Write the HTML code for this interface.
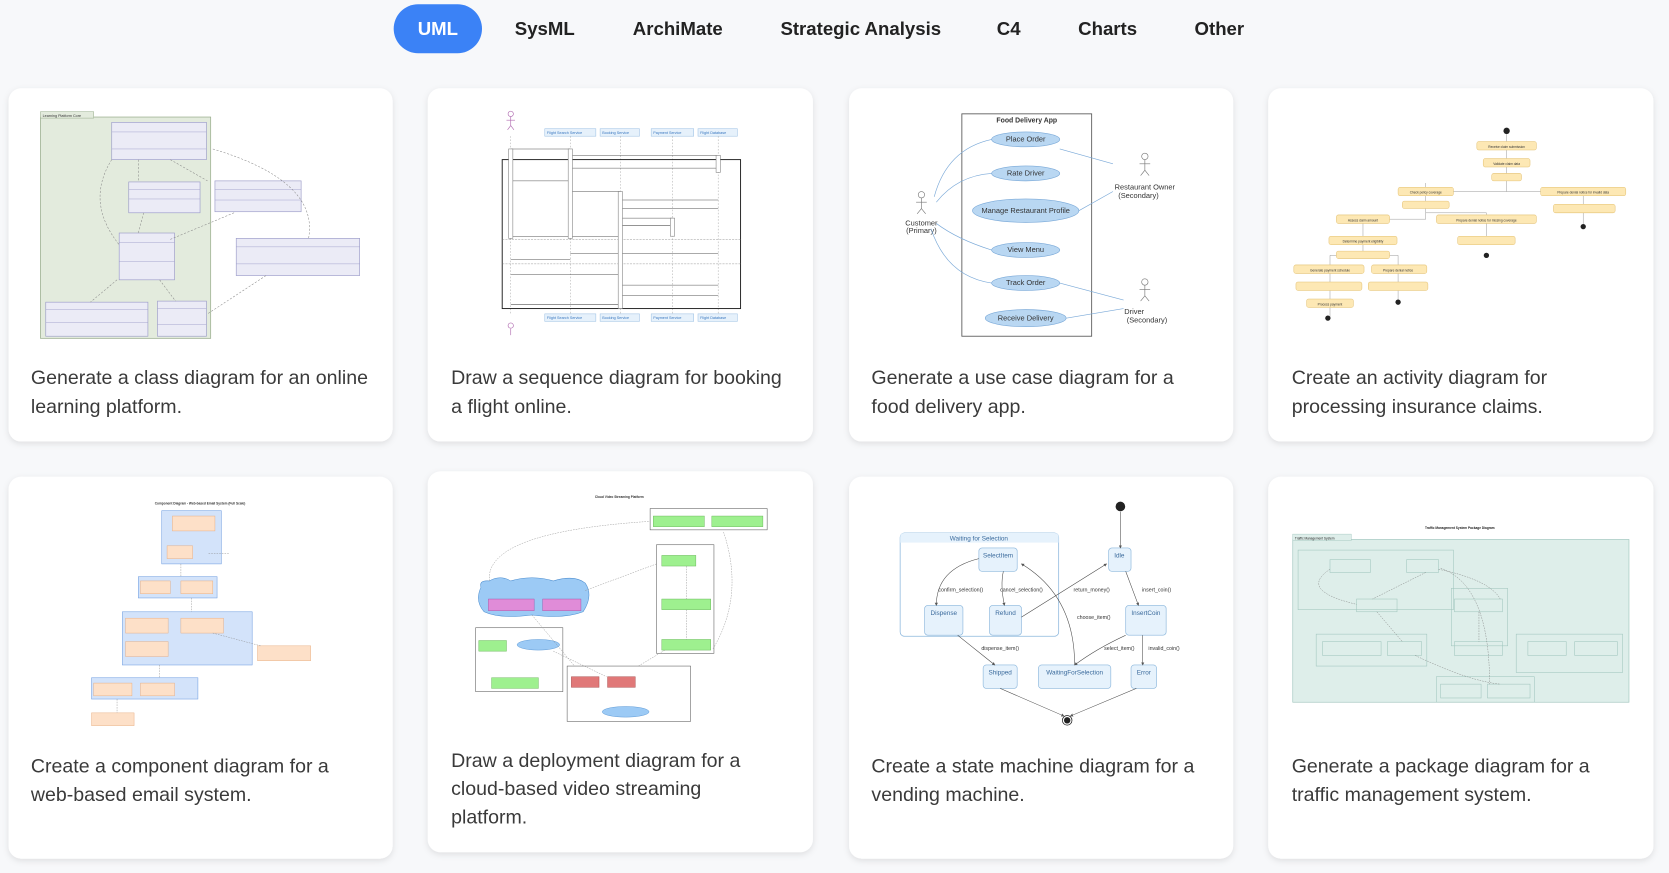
<!DOCTYPE html>
<html><head><meta charset="utf-8"><style>
html,body{margin:0;padding:0;background:#f7f8fa;width:1669px;height:873px;overflow:hidden}
svg{display:block}
.t{font-family:"Liberation Sans",sans-serif}
</style></head><body>
<svg width="1669" height="873" viewBox="0 0 1568.6 820.5" xmlns="http://www.w3.org/2000/svg" class="t">
<defs>
<filter id="sh" x="-5%" y="-5%" width="110%" height="115%"><feDropShadow dx="0" dy="2" stdDeviation="3" flood-color="#000" flood-opacity="0.10"/></filter>
<marker id="a" markerWidth="6" markerHeight="6" refX="5" refY="3" orient="auto"><path d="M0,0L6,3L0,6z" fill="#555"/></marker>
</defs>
<rect width="1568.6" height="820.5" fill="#f7f8fa"/>
<!-- tabs -->
<rect x="370" y="4" width="83" height="46" rx="23" fill="#3b82f6"/>
<g font-size="17.5" font-weight="bold" fill="#222" text-anchor="middle">
<text x="411.5" y="33" fill="#fff">UML</text>
<text x="512" y="33">SysML</text>
<text x="637" y="33">ArchiMate</text>
<text x="809" y="33">Strategic Analysis</text>
<text x="948" y="33">C4</text>
<text x="1041" y="33">Charts</text>
<text x="1146" y="33">Other</text>
</g>
<!-- cards -->
<g fill="#fff" filter="url(#sh)">
<rect x="8" y="83" width="361" height="332" rx="12"/>
<rect x="402" y="83" width="362" height="332" rx="12"/>
<rect x="798" y="83" width="361" height="332" rx="12"/>
<rect x="1192" y="83" width="362" height="332" rx="12"/>
<rect x="8" y="448" width="361" height="359" rx="12"/>
<rect x="402" y="443" width="362" height="358" rx="12"/>
<rect x="798" y="448" width="361" height="359" rx="12"/>
<rect x="1192" y="448" width="362" height="359" rx="12"/>
</g>
<g font-size="18.4" fill="#3a3a3a">
<text x="29" y="361">Generate a class diagram for an online</text>
<text x="29" y="388">learning platform.</text>
<text x="424" y="361">Draw a sequence diagram for booking</text>
<text x="424" y="388">a flight online.</text>
<text x="819" y="361">Generate a use case diagram for a</text>
<text x="819" y="388">food delivery app.</text>
<text x="1214" y="361">Create an activity diagram for</text>
<text x="1214" y="388">processing insurance claims.</text>
<text x="29" y="726">Create a component diagram for a</text>
<text x="29" y="753">web-based email system.</text>
<text x="424" y="721">Draw a deployment diagram for a</text>
<text x="424" y="747">cloud-based video streaming</text>
<text x="424" y="774">platform.</text>
<text x="819" y="726">Create a state machine diagram for a</text>
<text x="819" y="753">vending machine.</text>
<text x="1214" y="726">Generate a package diagram for a</text>
<text x="1214" y="753">traffic management system.</text>
</g>

<!-- Card1 class diagram -->
<g font-size="3.5" fill="#333">
<rect x="38" y="110" width="160" height="208" fill="#e3ebdd" stroke="#9aae8e" stroke-width="0.7"/>
<rect x="38" y="105" width="50" height="6" fill="#e3ebdd" stroke="#9aae8e" stroke-width="0.5"/>
<text x="40" y="110">Learning Platform Core</text>
<g fill="#ebebf6" stroke="#9a9ac8" stroke-width="0.6">
<rect x="105" y="115" width="89" height="35"/><rect x="121" y="171" width="67" height="29"/>
<rect x="202" y="170" width="81" height="29"/><rect x="112" y="219" width="52" height="44"/>
<rect x="222" y="224" width="116" height="35"/><rect x="43" y="284" width="96" height="32"/>
<rect x="148" y="283" width="46" height="33"/></g>
<g stroke="#9a9ac8" stroke-width="0.4"><path d="M105 124H194M105 140H194M121 178H188M121 187H188M202 178H283M202 188H283M112 228H164M112 246H164M222 232H338M222 248H338M43 291H139M43 303H139M148 290H194M148 305H194"/></g>
<g fill="none" stroke="#888" stroke-width="0.5" stroke-dasharray="2,1.5">
<path d="M130 150 L130 171"/><path d="M160 150 L195 170"/><path d="M105 150 Q80 190 112 230"/>
<path d="M200 140 Q300 170 290 224"/><path d="M135 200 L130 219"/><path d="M220 200 L160 225"/>
<path d="M110 263 L85 284"/><path d="M150 263 L165 283"/><path d="M250 259 L195 295"/></g>
</g>

<!-- Card2 sequence -->
<g font-size="3.5" fill="#333">
<g fill="#e6f1fb" stroke="#9cc1e4" stroke-width="0.5">
<rect x="512" y="121" width="48" height="7"/><rect x="564" y="121" width="37" height="7"/><rect x="612" y="121" width="40" height="7"/><rect x="656" y="121" width="37" height="7"/>
<rect x="512" y="295" width="48" height="7"/><rect x="564" y="295" width="37" height="7"/><rect x="612" y="295" width="40" height="7"/><rect x="656" y="295" width="37" height="7"/></g>
<g fill="#3a78c0"><text x="514" y="126">Flight Search Service</text><text x="566" y="126">Booking Service</text><text x="614" y="126">Payment Service</text><text x="658" y="126">Flight Database</text>
<text x="514" y="300">Flight Search Service</text><text x="566" y="300">Booking Service</text><text x="614" y="300">Payment Service</text><text x="658" y="300">Flight Database</text></g>
<g stroke="#b06ab0" stroke-width="0.6" fill="none"><circle cx="480" cy="107" r="2.5"/><path d="M480 110v8M476 113h8M480 118l-3 4M480 118l3 4"/><circle cx="480" cy="306" r="2.5"/><path d="M480 309v6"/></g>
<g stroke="#aaa" stroke-width="0.5" stroke-dasharray="1.5,1.5"><path d="M480 128V295M536 128V295M583 128V295M632 128V295M675 128V295"/></g>
<rect x="472" y="150" width="224" height="140" fill="none" stroke="#222" stroke-width="0.9"/>
<path d="M472 225H696M472 248H696" stroke="#888" stroke-width="0.4" stroke-dasharray="2,1"/>
<g stroke="#555" stroke-width="0.5" fill="none">
<path d="M480 140H536M536 146H675M675 158H536M536 170H480M536 180H583M583 188H675M675 196H583M583 205H632M632 212H583M583 222H480M675 238H536M536 244H480M480 258H583M583 268H675M675 278H583M583 286H480"/></g>
<g fill="#fff" stroke="#777" stroke-width="0.5"><rect x="478" y="140" width="4" height="84"/><rect x="534" y="140" width="4" height="84"/><rect x="581" y="180" width="4" height="110"/><rect x="673" y="146" width="4" height="16"/><rect x="630" y="205" width="4" height="17"/></g>
</g>

<!-- Card3 use case -->
<g font-size="7" fill="#333" text-anchor="middle">
<rect x="904" y="107" width="122" height="209" fill="#fff" stroke="#555" stroke-width="0.8"/>
<text x="965" y="115" font-weight="bold" font-size="6.5">Food Delivery App</text>
<g fill="#b9d7f2" stroke="#7aa9d8" stroke-width="0.6">
<ellipse cx="964" cy="131" rx="32" ry="7"/><ellipse cx="964" cy="163" rx="32" ry="7"/><ellipse cx="964" cy="198" rx="50" ry="11"/>
<ellipse cx="964" cy="235" rx="32" ry="7"/><ellipse cx="964" cy="266" rx="32" ry="7"/><ellipse cx="964" cy="299" rx="38" ry="8"/></g>
<text x="964" y="133">Place Order</text><text x="964" y="165">Rate Driver</text><text x="964" y="200">Manage Restaurant Profile</text><text x="964" y="237">View Menu</text><text x="964" y="268">Track Order</text><text x="964" y="301">Receive Delivery</text>
<g stroke="#777" stroke-width="0.6" fill="none"><circle cx="866" cy="183" r="3"/><path d="M866 186v10M861 190h10M866 196l-4 5M866 196l4 5"/>
<circle cx="1076" cy="147" r="3"/><path d="M1076 150v10M1071 154h10M1076 160l-4 5M1076 160l4 5"/>
<circle cx="1076" cy="265" r="3"/><path d="M1076 268v10M1071 272h10M1076 278l-4 5M1076 278l4 5"/></g>
<text x="866" y="212">Customer</text><text x="866" y="219">(Primary)</text>
<text x="1076" y="178">Restaurant Owner</text><text x="1070" y="186">(Secondary)</text>
<text x="1066" y="295">Driver</text><text x="1078" y="303">(Secondary)</text>
<g stroke="#7aa9d8" stroke-width="0.6" fill="none"><path d="M878 185Q890 140 932 131"/><path d="M880 190Q900 165 932 163"/><path d="M880 210Q900 225 932 235"/><path d="M875 215Q890 260 932 266"/><path d="M996 140L1046 154"/><path d="M1014 198L1046 180"/><path d="M996 266L1056 282"/><path d="M1002 299L1056 290"/></g>
</g>

<!-- Card4 activity -->
<g font-size="3" fill="#333" text-anchor="middle">
<g stroke="#888" stroke-width="0.4" fill="none"><path d="M1416 123V180M1340 172V180H1488M1340 180V206H1281M1340 200H1397V226M1488 180V213M1281 206V240H1250V299M1281 240H1314V284"/></g>
<g fill="#fde8b4" stroke="#e4c275" stroke-width="0.5">
<rect x="1388" y="133" width="56" height="8" rx="2"/><rect x="1394" y="149" width="44" height="8" rx="2"/><rect x="1402" y="163" width="28" height="7" rx="2"/>
<rect x="1314" y="176" width="52" height="8" rx="2"/><rect x="1448" y="176" width="80" height="8" rx="2"/><rect x="1318" y="189" width="44" height="7" rx="2"/>
<rect x="1256" y="202" width="50" height="8" rx="2"/><rect x="1350" y="202" width="94" height="8" rx="2"/><rect x="1460" y="192" width="58" height="8" rx="2"/>
<rect x="1249" y="222" width="64" height="8" rx="2"/><rect x="1370" y="222" width="54" height="8" rx="2"/><rect x="1256" y="236" width="50" height="7" rx="2"/>
<rect x="1216" y="249" width="66" height="8" rx="2"/><rect x="1289" y="249" width="52" height="8" rx="2"/><rect x="1218" y="265" width="62" height="8" rx="2"/>
<rect x="1286" y="265" width="56" height="8" rx="2"/><rect x="1228" y="281" width="44" height="8" rx="2"/></g>
<g fill="#222"><circle cx="1416" cy="123" r="3"/><circle cx="1248" cy="299" r="2.5"/><circle cx="1314" cy="284" r="2.5"/><circle cx="1397" cy="240" r="2.5"/><circle cx="1488" cy="213" r="2.5"/></g>
<text x="1416" y="139">Receive claim submission</text><text x="1416" y="155">Validate claim data</text><text x="1340" y="182">Check policy coverage</text><text x="1488" y="182">Prepare denial notice for invalid data</text><text x="1397" y="208">Prepare denial notice for missing coverage</text><text x="1281" y="208">Assess claim amount</text><text x="1281" y="228">Determine payment eligibility</text><text x="1250" y="255">Generate payment schedule</text><text x="1314" y="255">Prepare denial notice</text><text x="1250" y="287">Process payment</text>
</g>

<!-- Card5 component -->
<g font-size="3" fill="#333">
<text x="188" y="474" text-anchor="middle" font-weight="bold">Component Diagram - Web-based Email System (Full Scale)</text>
<g fill="#d3e3fa" stroke="#6d9ce0" stroke-width="0.5">
<rect x="152" y="480" width="56" height="50"/><rect x="130" y="542" width="74" height="20"/><rect x="115" y="575" width="122" height="50"/><rect x="86" y="637" width="100" height="20"/></g>
<g fill="#fde0c8" stroke="#e5a87a" stroke-width="0.4">
<rect x="162" y="485" width="40" height="14"/><rect x="157" y="513" width="24" height="12"/><rect x="132" y="546" width="28" height="12"/><rect x="170" y="546" width="30" height="12"/>
<rect x="118" y="581" width="40" height="14"/><rect x="170" y="581" width="40" height="14"/><rect x="118" y="603" width="40" height="14"/><rect x="242" y="607" width="50" height="14"/>
<rect x="88" y="642" width="36" height="12"/><rect x="132" y="642" width="32" height="12"/><rect x="86" y="670" width="40" height="12"/></g>
<g stroke="#888" stroke-width="0.4" fill="none" stroke-dasharray="1.5,1"><path d="M170 530V542M180 562V575M150 625V637M200 595L245 607M110 657V670M196 520H215"/></g>
</g>

<!-- Card6 deployment -->
<g font-size="3" fill="#333">
<text x="582" y="468" text-anchor="middle" font-weight="bold">Cloud Video Streaming Platform</text>
<g fill="#fff" stroke="#555" stroke-width="0.5">
<rect x="611" y="478" width="110" height="20"/><rect x="617" y="512" width="54" height="102"/><rect x="447" y="590" width="82" height="60"/><rect x="533" y="626" width="116" height="52"/></g>
<g fill="#9ef08f" stroke="#60b050" stroke-width="0.4">
<rect x="614" y="485" width="48" height="10"/><rect x="669" y="485" width="48" height="10"/><rect x="622" y="522" width="32" height="10"/><rect x="622" y="563" width="46" height="10"/>
<rect x="622" y="601" width="46" height="10"/><rect x="450" y="602" width="26" height="10"/><rect x="462" y="637" width="44" height="10"/></g>
<path d="M452 552Q450 545 460 546Q470 540 480 546Q500 540 520 546Q540 540 550 548Q558 560 548 575Q530 582 500 578Q470 582 455 575Q446 565 452 552z" fill="#9ccaf5" stroke="#4f8fd0" stroke-width="0.5"/>
<rect x="459" y="563" width="43" height="11" fill="#e08cd8" stroke="#a050a0" stroke-width="0.4"/><rect x="510" y="563" width="36" height="11" fill="#e08cd8" stroke="#a050a0" stroke-width="0.4"/>
<rect x="537" y="636" width="26" height="10" fill="#e07878" stroke="#a04040" stroke-width="0.4"/><rect x="571" y="636" width="26" height="10" fill="#e07878" stroke="#a04040" stroke-width="0.4"/>
<ellipse cx="506" cy="606" rx="20" ry="5" fill="#9ccaf5" stroke="#4f8fd0" stroke-width="0.4"/><ellipse cx="588" cy="669" rx="22" ry="5" fill="#9ccaf5" stroke="#4f8fd0" stroke-width="0.4"/>
<g stroke="#888" stroke-width="0.4" fill="none" stroke-dasharray="1.5,1"><path d="M460 546Q455 500 611 490M550 555L617 530M500 578L540 626M645 532V563M645 573V601M600 626L625 611M520 612L570 636M680 500Q700 560 670 610"/></g>
</g>

<!-- Card7 state machine -->
<g font-size="6" fill="#3a6a9c" text-anchor="middle">
<rect x="846" y="501" width="149" height="97" rx="4" fill="#fff" stroke="#8ab6dc" stroke-width="0.7"/>
<path d="M846 510H995V505Q995 501 991 501H850Q846 501 846 505z" fill="#e6f2fc"/>
<text x="920" y="508">Waiting for Selection</text>
<g fill="#e6f2fc" stroke="#8ab6dc" stroke-width="0.6">
<rect x="920" y="515" width="36" height="22" rx="3"/><rect x="1042" y="515" width="21" height="22" rx="3"/>
<rect x="869" y="569" width="36" height="28" rx="3"/><rect x="930" y="569" width="30" height="28" rx="3"/><rect x="1058" y="569" width="38" height="28" rx="3"/>
<rect x="924" y="625" width="32" height="22" rx="3"/><rect x="976" y="625" width="68" height="22" rx="3"/><rect x="1063" y="625" width="24" height="22" rx="3"/></g>
<text x="938" y="524">SelectItem</text><text x="1052" y="524">Idle</text><text x="887" y="578">Dispense</text><text x="945" y="578">Refund</text><text x="1077" y="578">InsertCoin</text>
<text x="940" y="634">Shipped</text><text x="1010" y="634">WaitingForSelection</text><text x="1075" y="634">Error</text>
<circle cx="1053" cy="476" r="4.5" fill="#222"/><circle cx="1003" cy="677" r="4.5" fill="#fff" stroke="#222" stroke-width="0.7"/><circle cx="1003" cy="677" r="3" fill="#222"/>
<g stroke="#444" stroke-width="0.5" fill="none" marker-end="url(#a)">
<path d="M1053 481V515"/><path d="M920 525Q880 535 880 569"/><path d="M943 537Q940 550 944 569"/><path d="M960 580L1040 530"/><path d="M1058 537L1070 569"/>
<path d="M900 597L935 625"/><path d="M1058 597Q1030 610 1010 625"/><path d="M1074 597V625"/><path d="M1010 625Q1010 560 960 530"/><path d="M940 647L1000 673"/><path d="M1068 647L1006 673"/></g>
<g font-size="5" fill="#333"><text x="903" y="556">confirm_selection()</text><text x="960" y="556">cancel_selection()</text><text x="1026" y="556">return_money()</text><text x="1087" y="556">insert_coin()</text><text x="1028" y="582">choose_item()</text><text x="940" y="611">dispense_item()</text><text x="1052" y="611">select_item()</text><text x="1094" y="611">invalid_coin()</text></g>
</g>

<!-- Card8 package -->
<g font-size="3" fill="#222">
<text x="1372" y="497" text-anchor="middle" font-weight="bold">Traffic Management System Package Diagram</text>
<rect x="1215" y="507" width="316" height="153" fill="#deeeea" stroke="#9ec4bc" stroke-width="0.6"/>
<rect x="1215" y="502" width="55" height="6" fill="#deeeea" stroke="#9ec4bc" stroke-width="0.4"/><text x="1217" y="507">Traffic Management System</text>
<g fill="none" stroke="#9ec4bc" stroke-width="0.5">
<rect x="1220" y="517" width="146" height="56"/><rect x="1364" y="553" width="53" height="54"/><rect x="1237" y="596" width="104" height="30"/><rect x="1425" y="596" width="100" height="36"/><rect x="1350" y="636" width="92" height="24"/>
<rect x="1250" y="526" width="38" height="12"/><rect x="1322" y="526" width="30" height="12"/><rect x="1275" y="563" width="38" height="12"/><rect x="1367" y="563" width="45" height="12"/><rect x="1243" y="603" width="55" height="13"/><rect x="1304" y="603" width="32" height="13"/><rect x="1367" y="603" width="45" height="13"/><rect x="1436" y="603" width="36" height="13"/><rect x="1480" y="603" width="40" height="13"/><rect x="1354" y="643" width="38" height="13"/><rect x="1398" y="643" width="40" height="13"/></g>
<g stroke="#777" stroke-width="0.4" fill="none" stroke-dasharray="1.5,1"><path d="M1250 535Q1220 555 1275 568M1340 538L1290 563M1352 535Q1400 545 1410 563M1354 534Q1400 550 1400 643M1294 575L1318 603M1390 575V603M1330 616Q1380 640 1410 643"/></g>
</g>
</svg>
</body></html>
